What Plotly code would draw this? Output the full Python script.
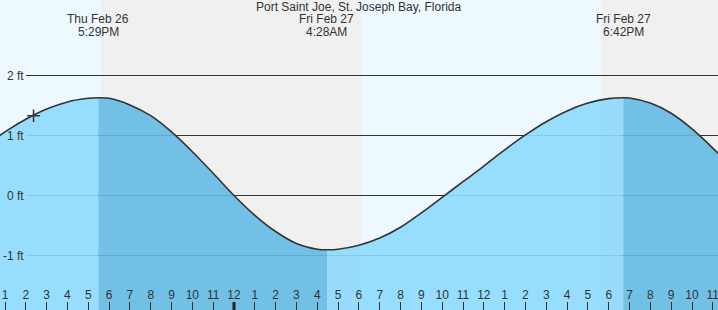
import plotly.graph_objects as go

# ---- data (hours since Thu Feb 26 00:00, tide height in ft) ----
times = [12, 13, 14, 15, 16, 17, 17.483, 18, 19, 20, 21, 22, 23, 24, 25, 26, 27, 28,
         28.467, 29, 30, 31, 32, 33, 34, 35, 36, 37, 38, 39, 40, 41, 42, 42.7,
         43, 44, 45, 46, 47, 48]
levels = [0.81, 1.06, 1.27, 1.44, 1.56, 1.62, 1.63, 1.62, 1.51, 1.33, 1.06, 0.73, 0.37, 0.00,
          -0.33, -0.60, -0.80, -0.895, -0.905, -0.896, -0.83, -0.71, -0.53, -0.29, -0.03,
          0.23, 0.49, 0.76, 1.01, 1.23, 1.41, 1.54, 1.615, 1.63, 1.625, 1.54, 1.37, 1.11,
          0.79, 0.44]

extreme_times = [17.483, 28.467, 42.7]
extreme_day = ["Thu Feb 26", "Fri Feb 27", "Fri Feb 27"]
extreme_clock = ["5:29PM", "4:28AM", "6:42PM"]

night_starts = [17.61, 41.63]
night_ends = [30.10, 48.0]

now_time = [14.37]
now_level = [1.33]

tick_hours = list(range(13, 48))
tick_text = [str((h - 1) % 12 + 1) for h in tick_hours]
midnight_hours = [24]

y_grid = [2, 1, 0, -1]
y_grid_text = ["2 ft", "1 ft", "0 ft", "-1 ft"]

title_text = "Port Saint Joe, St. Joseph Bay, Florida"

# ---- style ----
FONT = "Liberation Sans, Arial, sans-serif"
TXT = "#333333"
DAY_BG = "#eef8ff"
NIGHT_BG = "#f0f0f0"
RISE_FILL = "rgba(141,217,253,0.9)"
FALL_FILL = "rgba(100,186,228,0.9)"
X_RANGE = [12.76, 47.249]
Y_RANGE = [-1.9083, 3.2583]
BOTTOM = -2.5

fig = go.Figure()

# fill segments between extremes
bounds = [times[0]] + extreme_times + [times[-1]]
for i in range(len(bounds) - 1):
    a, b = bounds[i], bounds[i + 1]
    sx = [t for t in times if a <= t <= b]
    sy = [levels[times.index(t)] for t in sx]
    color = RISE_FILL if sy[-1] > sy[0] else FALL_FILL
    fig.add_trace(go.Scatter(x=[sx[0], sx[-1]], y=[BOTTOM, BOTTOM], mode="lines",
                             line=dict(width=0), hoverinfo="skip", showlegend=False))
    fig.add_trace(go.Scatter(x=sx, y=sy, mode="lines", fill="tonexty", fillcolor=color,
                             line=dict(width=0, shape="spline"), hoverinfo="skip",
                             showlegend=False))

# tide outline
fig.add_trace(go.Scatter(x=times, y=levels, mode="lines",
                         line=dict(color="#333333", width=1.6, shape="spline"),
                         hoverinfo="skip", showlegend=False))

# current time marker
fig.add_trace(go.Scatter(x=now_time, y=now_level, mode="markers",
                         marker=dict(symbol="cross-thin", size=9,
                                     line=dict(color="#333333", width=1.5)),
                         hoverinfo="skip", showlegend=False))

shapes = []
# day/night backgrounds
shapes.append(dict(type="rect", xref="paper", yref="paper", x0=0, x1=1, y0=0, y1=1,
                   fillcolor=DAY_BG, line=dict(width=0), layer="below"))
for s, e in zip(night_starts, night_ends):
    shapes.append(dict(type="rect", xref="x", yref="paper", x0=s, x1=e, y0=0, y1=1,
                       fillcolor=NIGHT_BG, line=dict(width=0), layer="below"))
# gridlines
for g in y_grid:
    shapes.append(dict(type="line", xref="paper", yref="y", x0=26 / 718, x1=1, y0=g, y1=g,
                       line=dict(color="#333333", width=1), layer="below"))
# midnight tick
for m in midnight_hours:
    shapes.append(dict(type="line", xref="x", yref="paper", x0=m, x1=m, y0=0, y1=8 / 310,
                       line=dict(color="#222222", width=3), layer="above"))

annotations = [dict(text=title_text, xref="paper", yref="paper", x=0.5, y=1 - 7.5 / 310,
                    xanchor="center", yanchor="middle", showarrow=False,
                    font=dict(family=FONT, size=12, color=TXT))]
for t, d, c in zip(extreme_times, extreme_day, extreme_clock):
    annotations.append(dict(text=d, xref="x", yref="paper", x=t, y=1 - 19.5 / 310,
                            xanchor="center", yanchor="middle", showarrow=False,
                            font=dict(family=FONT, size=12, color=TXT)))
    annotations.append(dict(text=c, xref="x", yref="paper", x=t, y=1 - 32 / 310,
                            xanchor="center", yanchor="middle", showarrow=False,
                            font=dict(family=FONT, size=12, color=TXT)))
for g, lab in zip(y_grid, y_grid_text):
    annotations.append(dict(text=lab, xref="paper", yref="y", x=25.5 / 718, y=g,
                            xanchor="right", yanchor="middle", showarrow=False,
                            font=dict(family=FONT, size=12, color=TXT)))

fig.update_layout(
    width=718, height=310,
    margin=dict(l=0, r=0, t=0, b=0, pad=0),
    paper_bgcolor=DAY_BG, plot_bgcolor=DAY_BG,
    showlegend=False,
    shapes=shapes,
    annotations=annotations,
    font=dict(family=FONT, size=12, color=TXT),
    xaxis=dict(range=X_RANGE, showgrid=False, zeroline=False, showline=False,
               tickmode="array", tickvals=tick_hours, ticktext=tick_text,
               ticks="inside", ticklen=8, tickwidth=1, tickcolor="#333333",
               ticklabelposition="inside", ticklabeloverflow="allow",
               tickfont=dict(family=FONT, size=12, color=TXT),
               fixedrange=True),
    yaxis=dict(range=Y_RANGE, showgrid=False, zeroline=False, showline=False,
               showticklabels=False, ticks="", fixedrange=True),
)

fig.write_html("out.html", config={"displayModeBar": False})
